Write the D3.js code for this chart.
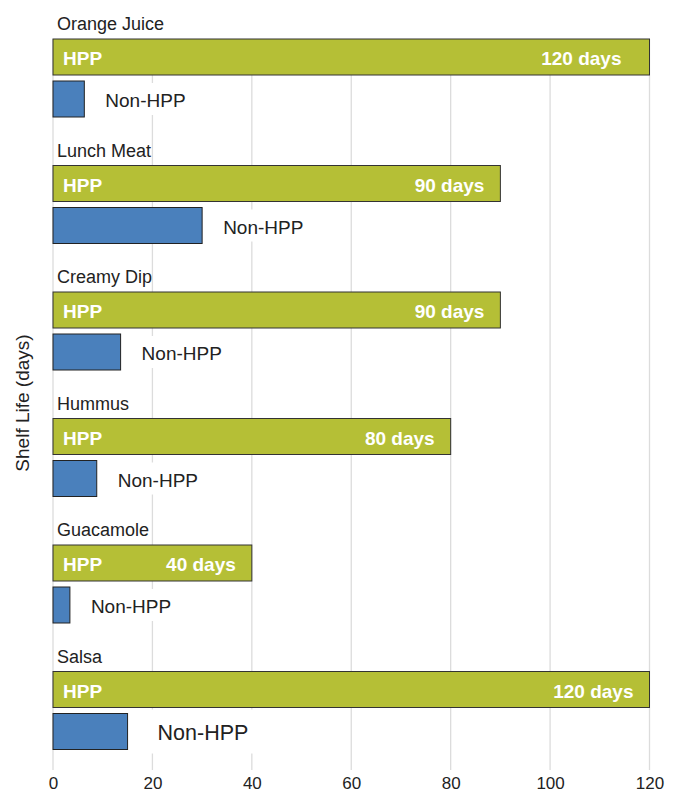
<!DOCTYPE html>
<html>
<head>
<meta charset="utf-8">
<script src="https://cdn.jsdelivr.net/npm/d3@7"></script>
<style>
  body { margin: 0; background: #fff; }
  text { font-family: "Liberation Sans", Arial, sans-serif; fill: #222; }
</style>
</head>
<body>
<div id="container"></div>
<script>
const products = ['Orange Juice', 'Lunch Meat', 'Creamy Dip', 'Hummus', 'Guacamole', 'Salsa']
const hppDays = [120, 90, 90, 80, 40, 120]
const nonHppDays = [6.3, 30, 13.6, 8.8, 3.4, 15]
const xTicks = [0, 20, 40, 60, 80, 100, 120]

const w = 682
const h = 796

const colours = {
  'HPP': '#b5bf36',
  'Non-HPP': '#4a80bc'
}

const rows = products.map((name, i) => {
  return { name: name, hpp: hppDays[i], non: nonHppDays[i] }
})

const svg = d3.select('#container')
  .append('svg')
  .attr('width', w)
  .attr('height', h)

const x = d3.scaleLinear()
  .domain([0, 120])
  .range([53, 649.5])

const y = d3.scaleBand()
  .domain(products)
  .range([39, 39 + 126.5 * products.length])

const inner = d3.scaleBand()
  .domain(['HPP', 'Non-HPP'])
  .range([0, 78])
  .paddingInner(6 / 42)

// grid lines
svg.append('g')
  .selectAll('line')
  .data(xTicks)
  .enter()
  .append('line')
  .attr('x1', (d) => x(d))
  .attr('x2', (d) => x(d))
  .attr('y1', 39)
  .attr('y2', 770)
  .attr('stroke', '#dcdcdc')
  .attr('stroke-width', 1.3)

// x axis, labels only
const xAxis = svg.append('g')
  .attr('transform', 'translate(0, 777)')
  .call(d3.axisBottom(x).tickValues(xTicks).tickSize(0).tickPadding(0))
xAxis.select('.domain').remove()
xAxis.selectAll('text')
  .attr('dy', '0.71em')
  .style('font-size', '17px')
  .style('font-family', '"Liberation Sans", Arial, sans-serif')
  .attr('fill', '#222')

svg.append('text')
  .attr('transform', 'translate(29, 403) rotate(-90)')
  .attr('text-anchor', 'middle')
  .style('font-size', '19px')
  .text('Shelf Life (days)')

const group = svg.selectAll('.group')
  .data(rows)
  .enter()
  .append('g')
  .attr('class', 'group')
  .attr('transform', (d) => 'translate(0, ' + y(d.name) + ')')

group.append('text')
  .attr('x', x(0) + 4)
  .attr('y', -9)
  .style('font-size', '18px')
  .text((d) => d.name)

// HPP bars
group.append('rect')
  .attr('x', x(0))
  .attr('y', inner('HPP'))
  .attr('width', (d) => x(d.hpp) - x(0))
  .attr('height', inner.bandwidth())
  .attr('fill', colours['HPP'])
  .attr('stroke', '#333')
  .attr('stroke-width', 1)

group.append('text')
  .attr('x', x(0) + 10)
  .attr('y', inner('HPP') + inner.bandwidth() / 2 + 8)
  .style('font-size', '19px')
  .style('font-weight', 'bold')
  .style('fill', '#fff')
  .text('HPP')

// the first bar's label sits a little further in
group.append('text')
  .attr('x', (d, i) => x(d.hpp) - (i === 0 ? 28 : 16))
  .attr('y', inner('HPP') + inner.bandwidth() / 2 + 8)
  .attr('text-anchor', 'end')
  .style('font-size', '19px')
  .style('font-weight', 'bold')
  .style('fill', '#fff')
  .text((d) => d.hpp + ' days')

// Non-HPP bars
group.append('rect')
  .attr('x', x(0))
  .attr('y', inner('Non-HPP'))
  .attr('width', (d) => x(d.non) - x(0))
  .attr('height', inner.bandwidth())
  .attr('fill', colours['Non-HPP'])
  .attr('stroke', '#222')
  .attr('stroke-width', 1)

// last row's label is drawn a bit bigger in the original
const isLast = (i) => i === products.length - 1

const nonLabel = group.append('g')
  .attr('transform', (d, i) => 'translate(' + (x(d.non) + (isLast(i) ? 30 : 21)) + ', ' + (inner('Non-HPP') + inner.bandwidth() / 2) + ')')

nonLabel.append('rect')
  .attr('x', -7)
  .attr('y', (d, i) => isLast(i) ? -22 : -16)
  .attr('width', (d, i) => isLast(i) ? 106 : 96)
  .attr('height', (d, i) => isLast(i) ? 44 : 32)
  .attr('fill', '#fff')

nonLabel.append('text')
  .attr('y', (d, i) => isLast(i) ? 8.5 : 8)
  .style('font-size', (d, i) => isLast(i) ? '21.5px' : '19px')
  .text('Non-HPP')
</script>
</body>
</html>
